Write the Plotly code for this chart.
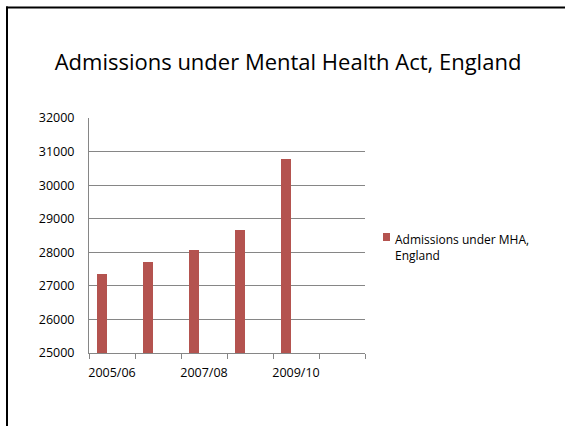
import plotly.graph_objects as go

categories = ["2005/06", "2006/07", "2007/08", "2008/09", "2009/10", "2010/11"]
admissions = [27360, 27720, 28080, 28670, 30780, None]
tick_labels = ["2005/06", "", "2007/08", "", "2009/10", ""]
series_name = "Admissions under MHA,<br>England"
title_text = "Admissions under Mental Health Act, England"
bar_color = "#B4534F"

W, H = 565, 426
L, R, T, B = 89, 200, 118, 73
pw, ph = W - L - R, H - T - B

def px_x(x):
    return (x - L) / pw

def px_y(y):
    return (H - B - y) / ph

fig = go.Figure()
fig.add_trace(go.Bar(
    x=categories, y=admissions, name=series_name,
    marker=dict(color=bar_color, line=dict(width=0)),
    width=0.22, offset=-0.33,
    showlegend=False,
))

fig.update_layout(
    width=W, height=H,
    margin=dict(l=L, r=R, t=T, b=B, autoexpand=False),
    paper_bgcolor="white", plot_bgcolor="white",
    font=dict(family="Open Sans, Liberation Sans, sans-serif", color="#000000", size=12),
    title=dict(text=title_text, x=288 / W, xanchor="center",
               y=1 - 62 / H, yanchor="middle",
               font=dict(size=22, color="#000000")),
    showlegend=False,
    bargap=0,
)

fig.update_xaxes(
    type="category", tickvals=categories, ticktext=tick_labels, tickangle=0,
    tickson="boundaries", ticks="outside", ticklen=5, tickcolor="#868686",
    showline=True, linecolor="#868686", linewidth=1,
    showgrid=False, range=[-0.5, 5.5], automargin=False, ticklabelstandoff=8,
    tickfont=dict(size=12.5, color="#000000"),
)
fig.update_yaxes(
    range=[25000, 32000], dtick=1000, tickformat="d",
    showgrid=True, gridcolor="#868686", gridwidth=1,
    showline=True, linecolor="#868686", linewidth=1,
    ticks="", zeroline=False, automargin=False, ticklabelstandoff=11,
    tickfont=dict(size=12.5, color="#000000"),
)

# legend (drawn manually to match Excel layout)
fig.add_shape(type="rect", xref="paper", yref="paper",
              x0=px_x(383), x1=px_x(390), y0=px_y(241), y1=px_y(233),
              line=dict(width=0), fillcolor=bar_color)
fig.add_annotation(text=series_name, xref="paper", yref="paper",
                   x=px_x(393), y=px_y(229), xanchor="left", yanchor="top",
                   align="left", showarrow=False,
                   font=dict(size=12, color="#000000"))

# slide frame border (left and top edges only visible)
fig.add_shape(type="line", xref="paper", yref="paper",
              x0=px_x(7), x1=px_x(7), y0=px_y(430), y1=px_y(6.5),
              line=dict(color="#000000", width=2), layer="above")
fig.add_shape(type="line", xref="paper", yref="paper",
              x0=px_x(6), x1=px_x(570), y0=px_y(7.5), y1=px_y(7.5),
              line=dict(color="#000000", width=2), layer="above")

fig.write_html("out.html", config={"displayModeBar": False},
               post_script="document.body.style.margin='0px';"
                           "document.body.style.overflow='hidden';"
                           "document.documentElement.style.overflow='hidden';")
